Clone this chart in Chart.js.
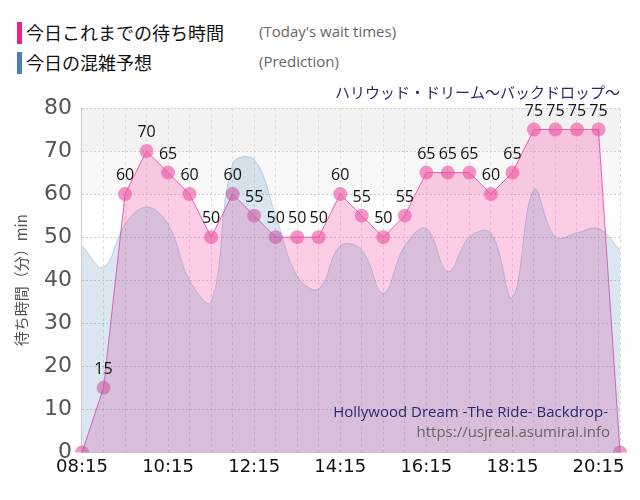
<!DOCTYPE html>
<html>
<head>
<meta charset="utf-8">
<script src="https://cdn.jsdelivr.net/npm/chart.js@4"></script>
<style>
body { margin: 0; background: #fff; font-family: "Noto Sans CJK JP", "Noto Sans", sans-serif; }
.lg { position: absolute; left: 17px; font-size: 18px; color: #111; }
.lg i { display: inline-block; width: 5px; height: 22px; vertical-align: -4px; margin-right: 4px; }
.lg span { position: absolute; left: 242px; top: 2px; font-size: 15px; color: #666; white-space: nowrap; font-family: "Open Sans", sans-serif; }
#wrap { position: absolute; left: 0; top: 0; width: 640px; height: 500px; }
</style>
</head>
<body>
<div class="lg" style="top:19px;white-space:nowrap"><i style="background:#f0208a"></i>今日これまでの待ち時間<span>(Today's wait times)</span></div>
<div class="lg" style="top:49px;white-space:nowrap"><i style="background:#4682b4"></i>今日の混雑予想<span>(Prediction)</span></div>
<div id="wrap"><canvas id="c" width="640" height="500"></canvas></div>
<script>
const times = ['08:15','08:45','09:15','09:45','10:15','10:45','11:15','11:45','12:15','12:45','13:15','13:45','14:15','14:45','15:15','15:45','16:15','16:45','17:15','17:45','18:15','18:45','19:15','19:45','20:15','20:45'];
const waitTimes = [0,15,60,70,65,60,50,60,55,50,50,50,60,55,50,55,65,65,65,60,65,75,75,75,75,0];
const prediction = [48,43,53,57,53,40,35,67,68,55,41,38,48,47,37,48,52,42,50,51,36,61,50,51,52,47];

const bgBands = {
  id: 'bgBands',
  beforeDraw(chart) {
    const { ctx, chartArea: a, scales: { y } } = chart;
    ctx.save();
    ctx.fillStyle = '#f2f2f2';
    ctx.fillRect(a.left, y.getPixelForValue(80), a.width, y.getPixelForValue(70) - y.getPixelForValue(80));
    ctx.fillStyle = '#f8f8f8';
    ctx.fillRect(a.left, y.getPixelForValue(70), a.width, y.getPixelForValue(60) - y.getPixelForValue(70));
    ctx.restore();
  },
  afterDatasetsDraw(chart) {
    const { ctx } = chart;
    const meta = chart.getDatasetMeta(1);
    ctx.save();
    ctx.font = '16px "Open Sans", sans-serif';
    ctx.fillStyle = '#111';
    ctx.textAlign = 'center';
    meta.data.forEach((p, i) => {
      const v = waitTimes[i];
      if (v > 0) ctx.fillText(v, p.x, p.y - 14);
    });
    ctx.textAlign = 'right';
    ctx.font = '15px "Open Sans", sans-serif';
    ctx.fillStyle = '#2a2a6a';
    ctx.fillText('Hollywood Dream -The Ride- Backdrop-', 608, 417);
    ctx.fillStyle = '#666';
    ctx.fillText('https://usjreal.asumirai.info', 610, 437);
    ctx.fillStyle = '#2a2a6a';
    ctx.font = '15px "Noto Sans CJK JP", sans-serif';
    ctx.fillText('ハリウッド・ドリーム～バックドロップ～', 620, 98);
    ctx.restore();
  }
};

new Chart(document.getElementById('c'), {
  type: 'line',
  data: {
    labels: times,
    datasets: [{
      label: '今日の混雑予想',
      data: prediction,
      borderColor: 'rgba(70,130,180,0.3)',
      backgroundColor: 'rgba(70,130,180,0.2)',
      borderWidth: 1,
      fill: true,
      tension: 0.4,
      pointRadius: 0
    }, {
      label: '今日これまでの待ち時間',
      data: waitTimes,
      borderColor: 'rgba(240,60,160,0.8)',
      backgroundColor: 'rgba(245,90,170,0.3)',
      borderWidth: 1,
      fill: true,
      tension: 0,
      pointRadius: 7,
      pointBackgroundColor: 'rgba(235,80,160,0.6)',
      pointBorderWidth: 0
    }]
  },
  options: {
    responsive: false,
    animation: false,
    layout: { padding: { top: 108, right: 20, left: 8, bottom: 18 } },
    plugins: { legend: { display: false }, tooltip: { enabled: false } },
    scales: {
      x: {
        offset: false,
        grid: { color: '#ddd', drawTicks: false },
        border: { color: '#ccc', dash: [3, 3] },
        ticks: {
          autoSkip: false, maxRotation: 0, color: '#111', padding: 4,
          font: { size: 18, family: 'DejaVu Sans' },
          callback: (v, i) => i % 4 === 0 ? times[i] : ''
        }
      },
      y: {
        min: 0, max: 80,
        grid: { color: '#ccc', drawTicks: false },
        border: { color: '#ccc', dash: [2, 2] },
        ticks: { stepSize: 10, color: '#555', padding: 10, font: { size: 22, family: 'DejaVu Sans' } },
        title: { display: true, text: '待ち時間（分）min', color: '#555', font: { size: 15, family: 'Noto Sans CJK JP' } }
      }
    }
  },
  plugins: [bgBands]
});
</script>
</body>
</html>
